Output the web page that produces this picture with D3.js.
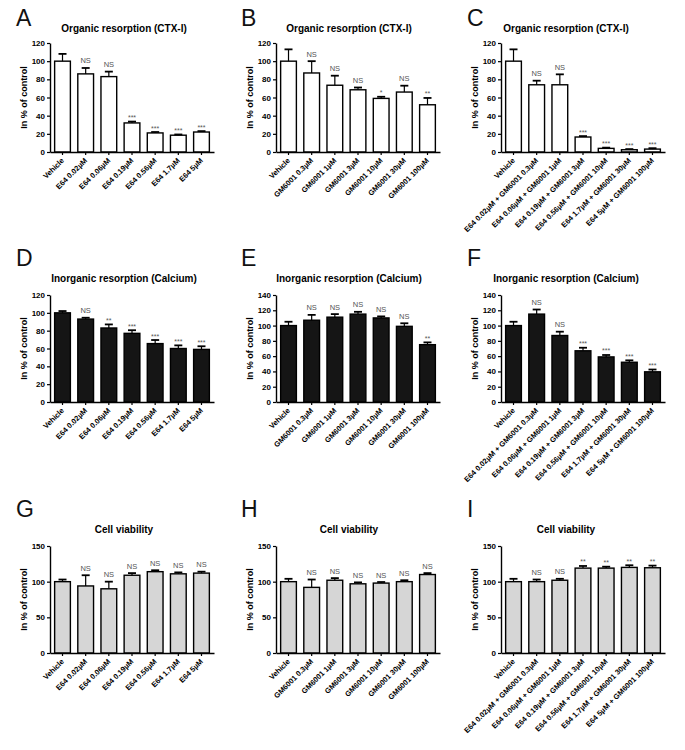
<!DOCTYPE html>
<html>
<head>
<meta charset="utf-8">
<script src="https://cdn.jsdelivr.net/npm/d3@7"></script>
<style>
  body { margin: 0; background: #fff; }
  svg { font-family: "Liberation Sans", Arial, sans-serif; }
</style>
</head>
<body>
<svg id="fig" width="685" height="750"></svg>
<script>
// category labels
const labelsE64 = ["Vehicle", "E64 0.02µM", "E64 0.06µM", "E64 0.19µM", "E64 0.56µM", "E64 1.7µM", "E64 5µM"];
const labelsGM = ["Vehicle", "GM6001 0.3µM", "GM6001 1µM", "GM6001 3µM", "GM6001 10µM", "GM6001 30µM", "GM6001 100µM"];
const labelsCombo = ["Vehicle", "E64 0.02µM + GM6001 0.3µM", "E64 0.06µM + GM6001 1µM", "E64 0.19µM + GM6001 3µM",
  "E64 0.56µM + GM6001 10µM", "E64 1.7µM + GM6001 30µM", "E64 5µM + GM6001 100µM"];

// means and error (SEM) per panel
const meanA = [100, 86, 83, 32, 21, 18.5, 22];
const errA  = [8, 6.5, 5.5, 1.5, 1, 0.8, 1];
const sigA  = ["", "NS", "NS", "***", "***", "***", "***"];
const meanB = [100, 87, 73.5, 68.5, 59, 66, 52];
const errB  = [13, 13, 10.5, 2.5, 1.8, 7, 7.5];
const sigB  = ["", "NS", "NS", "NS", "*", "NS", "**"];
const meanC = [100, 74, 74, 16.5, 4, 2.5, 3.2];
const errC  = [13, 4.5, 11.5, 1, 0.8, 0.7, 1];
const sigC  = ["", "NS", "NS", "***", "***", "***", "***"];
const meanD = [100, 93, 83, 77, 65.5, 60, 59];
const errD  = [2, 1.5, 4, 3.5, 4, 3.5, 3.5];
const sigD  = ["", "NS", "**", "***", "***", "***", "***"];
const meanE = [100, 107, 111, 115, 110, 99, 75];
const errE  = [5, 7, 4, 3, 2, 4, 3];
const sigE  = ["", "NS", "NS", "NS", "NS", "NS", "**"];
const meanF = [100, 115, 87, 67, 59, 52, 39.5];
const errF  = [5, 6, 5, 4, 2.5, 2.5, 3];
const sigF  = ["", "NS", "NS", "***", "***", "***", "***"];
const meanG = [100, 94, 90, 109, 114, 111, 112];
const errG  = [3, 15, 10, 3, 2, 2, 2];
const sigG  = ["", "NS", "NS", "NS", "NS", "NS", "NS"];
const meanH = [100, 92, 102, 97, 98, 100, 110];
const errH  = [4, 11, 3, 2, 1.5, 2, 2];
const sigH  = ["", "NS", "NS", "NS", "NS", "NS", "NS"];
const meanI = [100, 100, 102, 119, 119, 120, 119.5];
const errI  = [4, 3, 2, 3, 2, 3, 3];
const sigI  = ["", "NS", "NS", "**", "**", "**", "**"];

const titles = ["Organic resorption (CTX-I)", "Inorganic resorption (Calcium)", "Cell viability"];
const yMaxes = [[120, 120, 120], [120, 140, 140], [150, 150, 150]];
const yStep = [20, 20, 50];

// layout
const colX = [50, 276, 501];
const plotW = 164;
const rowTop = [43, 295, 546];
const rowBottom = [152, 402, 653];
const letterX = [16, 241, 467];
const letterY = [26, 266, 517];
const titleX = [124, 349, 566];
const titleY = [32, 282, 533];
const fills = ["#ffffff", "#151515", "#d6d6d6"];

const panels = [
  { letter: "A", labels: labelsE64, mean: meanA, err: errA, sig: sigA },
  { letter: "B", labels: labelsGM, mean: meanB, err: errB, sig: sigB },
  { letter: "C", labels: labelsCombo, mean: meanC, err: errC, sig: sigC },
  { letter: "D", labels: labelsE64, mean: meanD, err: errD, sig: sigD },
  { letter: "E", labels: labelsGM, mean: meanE, err: errE, sig: sigE },
  { letter: "F", labels: labelsCombo, mean: meanF, err: errF, sig: sigF },
  { letter: "G", labels: labelsE64, mean: meanG, err: errG, sig: sigG },
  { letter: "H", labels: labelsGM, mean: meanH, err: errH, sig: sigH },
  { letter: "I", labels: labelsCombo, mean: meanI, err: errI, sig: sigI }
];

const svg = d3.select("#fig");

panels.forEach((p, k) => {
  const row = Math.floor(k / 3), col = k % 3;
  const x0 = colX[col], top = rowTop[row], bottom = rowBottom[row];
  const yMax = yMaxes[row][col];

  const x = d3.scaleBand().domain(p.labels).range([x0, x0 + plotW]).paddingInner(0.32).paddingOuter(0.2);
  const y = d3.scaleLinear().domain([0, yMax]).range([bottom, top]);

  const g = svg.append("g");

  g.append("text").attr("x", letterX[col]).attr("y", letterY[row])
    .attr("font-size", 23).attr("font-weight", 300).attr("fill", "#111").text(p.letter);

  g.append("text").attr("x", titleX[col]).attr("y", titleY[row])
    .attr("text-anchor", "middle").attr("font-size", 10).attr("font-weight", "bold").text(titles[row]);

  g.append("text")
    .attr("transform", `translate(${x0 - 23},${(top + bottom) / 2}) rotate(-90)`)
    .attr("text-anchor", "middle").attr("font-size", 9).attr("font-weight", "bold")
    .text("In % of control");

  // bars
  const data = p.labels.map((l, i) => ({ l, m: p.mean[i], e: p.err[i], s: p.sig[i] }));
  const bw = x.bandwidth();

  g.selectAll("rect.bar").data(data).enter().append("rect")
    .attr("x", d => x(d.l)).attr("y", d => y(d.m))
    .attr("width", bw).attr("height", d => y(0) - y(d.m))
    .attr("fill", fills[row]).attr("stroke", "#000").attr("stroke-width", 1.4);

  // error bars
  g.selectAll("line.err").data(data).enter().append("line")
    .attr("x1", d => x(d.l) + bw / 2).attr("x2", d => x(d.l) + bw / 2)
    .attr("y1", d => y(d.m)).attr("y2", d => y(d.m + d.e))
    .attr("stroke", "#000").attr("stroke-width", 1.2);
  g.selectAll("line.cap").data(data).enter().append("line")
    .attr("x1", d => x(d.l) + bw / 2 - 4).attr("x2", d => x(d.l) + bw / 2 + 4)
    .attr("y1", d => y(d.m + d.e)).attr("y2", d => y(d.m + d.e))
    .attr("stroke", "#000").attr("stroke-width", 1.8);

  // significance
  g.selectAll("text.sig").data(data.filter(d => d.s)).enter().append("text")
    .attr("x", d => x(d.l) + bw / 2)
    .attr("y", d => y(d.m + d.e) - (d.s === "NS" ? 4.5 : 1.5))
    .attr("text-anchor", "middle").attr("font-size", d => d.s === "NS" ? 7.5 : 7)
    .attr("fill", "#555").text(d => d.s);

  // y axis
  const yAxis = d3.axisLeft(y).tickValues(d3.range(0, yMax + 1, yStep[row])).tickSize(3).tickPadding(2).tickSizeOuter(0);
  const ya = g.append("g").attr("transform", `translate(${x0},0)`).call(yAxis);
  ya.select(".domain").attr("stroke-width", 1.4);
  ya.selectAll(".tick line").attr("stroke-width", 1.2);
  ya.selectAll("text").attr("font-size", 8).attr("font-weight", "bold").attr("font-family", null);

  // x axis
  const xAxis = d3.axisBottom(x).tickSize(3).tickSizeOuter(0);
  const xa = g.append("g").attr("transform", `translate(0,${bottom})`).call(xAxis);
  xa.select(".domain").attr("stroke-width", 1.4);
  xa.selectAll(".tick line").attr("stroke-width", 1.2);
  xa.selectAll("text")
    .attr("font-size", 7.5).attr("font-weight", "bold").attr("font-family", null)
    .attr("text-anchor", "end").attr("dy", null).attr("y", 0)
    .attr("transform", "translate(2,9) rotate(-45)");
});
</script>
</body>
</html>
